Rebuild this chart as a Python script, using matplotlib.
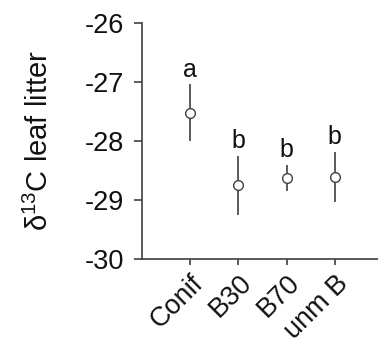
import numpy as np
import matplotlib.pyplot as plt

plt.rcParams['font.family'] = ['Liberation Sans', 'DejaVu Sans']
plt.rcParams['mathtext.fontset'] = 'custom'
plt.rcParams['mathtext.rm'] = 'Liberation Sans'
plt.rcParams['mathtext.it'] = 'Liberation Sans'

# group means, error bars and significance letters
groups = ['Conif', 'B30', 'B70', 'unm B']
means = [-27.52, -28.75, -28.62, -28.61]
errs = [0.48, 0.50, 0.22, 0.43]
letters = ['a', 'b', 'b', 'b']

AXC = '#404040'

fig = plt.figure(figsize=(3.78, 3.45), dpi=100)
ax = fig.add_axes([0.376, 0.249, 0.624, 0.685])

x = np.arange(1, len(groups) + 1)
ax.errorbar(x, means, yerr=errs, fmt='o', color=AXC, ecolor=AXC, elinewidth=1.2,
            capsize=0, markersize=7, markerfacecolor='white', markeredgecolor=AXC,
            markeredgewidth=1.0, zorder=3)

for xi, m, e, lt in zip(x, means, errs, letters):
    ax.text(xi, m + e + 0.13, lt, ha='center', va='baseline', fontsize=18, color='#111111')

ax.set_xlim(0, 4.9)
ax.set_ylim(-30, -26)
ax.set_yticks([-30, -29, -28, -27, -26])
ax.set_yticklabels(['-30', '-29', '-28', '-27', '-26'])
ax.set_xticks(x)
ax.set_xticklabels(groups, rotation=45, ha='right', rotation_mode='anchor')

for s in ['top', 'right']:
    ax.spines[s].set_visible(False)
for s in ['left', 'bottom']:
    ax.spines[s].set_color(AXC)
    ax.spines[s].set_linewidth(1.2)

ax.tick_params(axis='both', direction='out', width=1.2, color=AXC,
               labelsize=19.5, labelcolor='#111111')
ax.tick_params(axis='y', length=6, pad=7)
ax.tick_params(axis='x', length=4, pad=4)

ax.set_ylabel(r'δ$^{13}$C leaf litter', fontsize=21, color='#111111', labelpad=22)

fig.savefig('out.png', dpi=100)
